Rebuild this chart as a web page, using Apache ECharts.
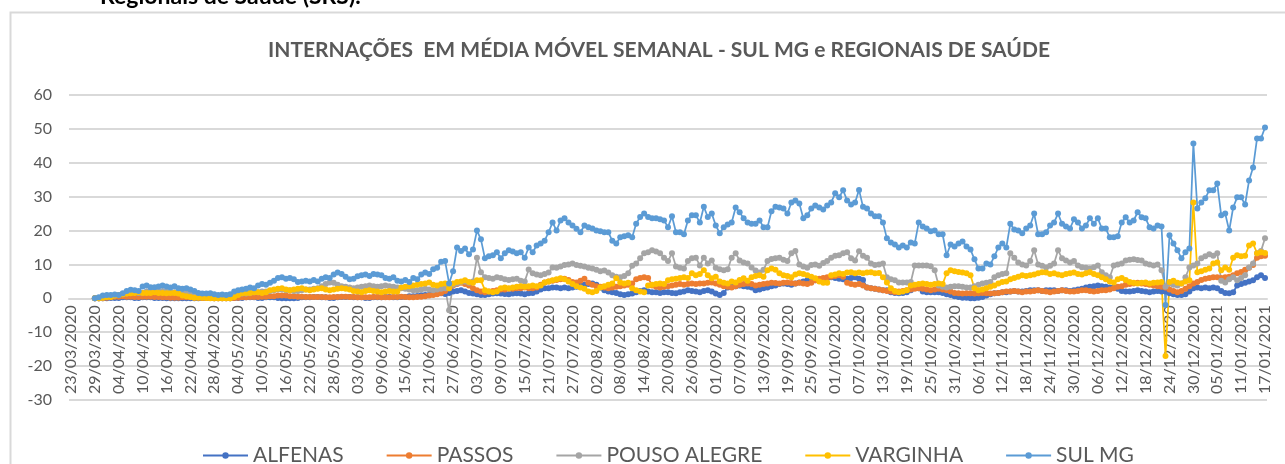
<!DOCTYPE html>
<html>
<head>
<meta charset="utf-8">
<script src="https://cdn.jsdelivr.net/npm/echarts@6/dist/echarts.min.js"></script>
<style>
html,body{margin:0;padding:0;background:#fff;}
#chart{width:1285px;height:464px;}
</style>
</head>
<body>
<div id="chart"></div>
<script>
// Categories: daily dates 23/03/2020 .. 17/01/2021
const startDate = [2020, 2, 23];
const dayCount = 301;
const categories = [];
for (let i = 0; i < dayCount; i++) {
  const d = new Date(Date.UTC(startDate[0], startDate[1], startDate[2] + i));
  const dd = String(d.getUTCDate()).padStart(2, '0');
  const mm = String(d.getUTCMonth() + 1).padStart(2, '0');
  categories.push(dd + '/' + mm + '/' + d.getUTCFullYear());
}

const seriesNames = ['ALFENAS', 'PASSOS', 'POUSO ALEGRE', 'VARGINHA', 'SUL MG'];
const yTicks = { min: -30, max: 60, step: 10 };

const alfenas = [
  null,null,null,null,null,null,0,0,0,0,
  0.1,0.1,0.1,0.3,0.3,0.3,0.1,0.1,0.3,0.3,
  0.3,0.1,0.1,0.1,0,0,0,0,0,0,
  0,0,0,0.1,0.1,0.1,0,0,0,0,
  0,0.1,0.1,0.1,0.3,0.3,0.3,0.1,0.1,0.3,
  0.3,0.3,0.1,0,0,0,0,0.1,0.3,0.3,
  0.3,0.4,0.4,0.3,0.3,0.1,0.1,0.3,0.4,0.4,
  0.4,0.3,0.3,0.3,0.1,0.1,0.3,0.3,0.3,0.4,
  0.4,0.3,0.3,0.4,0.4,0.6,0.6,0.7,0.9,1.0,
  1.0,1.2,1.4,1.5,1.3,1.6,2.0,2.2,2.4,2.0,
  1.6,1.4,1.2,1.0,1.0,1.2,1.4,1.5,1.4,1.3,
  1.2,1.4,1.5,1.4,1.2,1.5,1.6,2.0,2.6,3.0,
  3.0,3.2,3.2,3.0,3.2,3.0,3.2,3.4,3.8,4.0,
  4.2,4.4,4.0,3.2,2.4,2.0,1.8,1.6,1.2,1.0,
  1.2,1.4,1.8,2.2,2.4,2.0,1.8,1.8,1.6,1.8,
  1.8,1.6,1.5,1.8,2.0,2.4,2.2,2.0,1.8,2.2,
  2.4,2.0,1.4,1.0,1.6,3.2,3.4,3.6,3.8,3.6,
  3.4,3.2,2.4,2.6,3.0,3.2,3.6,3.8,4.2,4.4,
  4.2,4.0,4.4,4.7,5.0,5.3,5.0,5.3,5.6,5.8,
  6.0,6.2,6.0,5.8,5.6,5.8,6.0,6.2,5.8,5.4,
  3.2,3.0,2.8,2.6,2.4,2.4,1.8,1.6,1.5,1.6,
  1.8,2.4,3.5,3.0,2.0,1.8,1.8,1.8,1.8,1.6,
  1.2,1.0,0.6,0.4,0.2,0.2,0,0,0.2,0.4,
  0.8,1.2,1.5,1.6,1.8,1.8,2.0,2.2,2.0,2.0,
  2.2,2.4,2.4,2.4,2.2,2.4,2.4,2.4,2.2,2.4,
  2.4,2.2,2.4,2.6,2.8,3.2,3.4,3.6,3.8,3.6,
  3.4,3.2,3.2,2.8,2.2,2.0,2.0,2.2,2.4,2.2,
  2.0,1.8,2.0,2.2,2.0,2.0,1.5,1.2,1.0,1.0,
  1.2,2.0,3.0,3.2,3.0,3.2,3.0,3.2,3.0,2.2,
  1.6,1.5,1.8,3.8,4.2,4.6,5.0,5.3,6.2,6.8,
  6.0
];

const passos = [
  null,null,null,null,null,null,0,0,0,0.2,
  0.3,0.5,0.5,0.6,0.5,0.5,0.4,0.4,0.5,0.5,
  0.5,0.4,0.4,0.3,0.3,0.2,0.2,0.2,0.3,0.3,
  0.3,0.2,0.2,0.1,0.1,0.1,0,0,0,0,
  0,0.1,0.2,0.3,0.3,0.4,0.4,0.4,0.5,0.5,
  0.6,0.6,0.8,0.8,0.8,0.6,0.6,0.5,0.5,0.4,
  0.4,0.4,0.4,0.4,0.3,0.3,0.4,0.4,0.5,0.5,
  0.4,0.4,0.3,0.3,0.3,0.3,0.4,0.4,0.3,0.3,
  0.3,0.4,0.4,0.5,0.4,0.3,0.3,0.4,0.5,0.6,
  0.8,1.0,1.2,1.6,2.2,3.0,3.8,4.2,4.6,4.2,
  3.8,3.0,2.4,2.0,1.8,2.0,2.2,2.4,2.6,2.6,
  2.8,2.8,3.0,3.0,3.2,3.0,3.0,3.2,4.0,4.7,
  5.0,5.2,5.4,5.6,5.8,5.4,4.8,4.7,5.2,5.8,
  4.6,4.0,3.6,3.4,3.2,3.0,3.2,3.4,3.6,3.8,
  4.0,4.4,5.6,6.0,6.2,6.0,3.8,3.4,3.2,3.4,
  3.6,3.8,4.0,4.2,4.0,4.2,4.4,4.2,4.4,4.4,
  4.6,4.7,4.4,4.0,3.6,3.4,3.2,3.6,4.0,4.2,
  4.4,4.2,3.8,4.0,4.2,4.4,4.6,4.5,4.4,4.6,
  4.7,4.5,4.4,4.6,4.4,4.2,4.6,5.3,5.8,6.0,
  6.2,6.4,6.6,6.8,6.4,4.6,4.2,4.0,4.2,3.8,
  3.2,3.0,2.8,2.6,2.4,2.2,2.0,1.8,2.0,2.2,
  2.4,2.6,2.8,3.0,2.8,2.6,2.4,2.6,2.8,2.6,
  2.4,2.0,1.6,1.5,1.4,1.5,1.5,1.4,1.5,1.6,
  1.5,1.4,1.5,1.6,1.8,2.0,2.0,2.2,2.0,1.8,
  2.0,2.0,2.2,2.4,2.2,2.0,1.8,2.0,2.2,2.4,
  2.2,2.0,2.0,2.2,2.4,2.4,2.2,2.0,2.2,2.4,
  2.4,2.6,3.0,3.4,3.6,4.0,4.2,4.4,4.6,4.4,
  4.2,4.0,3.8,3.6,3.4,3.2,2.6,2.2,1.8,2.2,
  2.8,3.6,4.4,4.8,5.4,5.8,6.0,6.2,6.2,6.0,
  6.2,6.4,6.8,7.4,7.8,8.4,9.0,9.8,12.0,12.4,
  12.6
];

const pousoAlegre = [
  null,null,null,null,null,null,0,0,0.2,0.4,
  0.6,0.8,1.0,1.2,1.4,1.6,1.8,1.6,1.6,2.0,
  2.2,2.0,2.0,2.2,2.0,1.8,1.8,1.6,1.6,1.4,
  1.4,1.2,1.0,1.0,0.8,0.8,0.6,0.6,0.8,0.8,
  1.0,1.2,1.2,1.4,1.4,1.6,1.8,1.8,2.0,2.0,
  2.2,2.4,2.6,2.6,2.4,2.4,2.2,2.2,2.4,2.6,
  2.6,2.8,3.0,3.6,4.2,4.7,4.6,4.0,3.6,3.4,
  3.2,3.0,3.2,3.4,3.6,3.8,3.6,3.4,3.6,3.8,
  3.6,3.4,3.2,3.0,2.8,2.6,2.4,2.4,2.6,2.8,
  2.6,2.4,2.6,2.8,3.0,-3.5,4.0,4.4,4.8,5.0,
  4.6,5.0,12.0,7.7,6.2,6.0,5.8,6.2,6.0,5.6,
  5.4,5.6,5.8,5.2,5.0,8.5,7.4,7.0,6.8,7.2,
  7.6,9.1,9.0,9.4,9.8,10.0,10.3,9.8,9.6,9.4,
  9.0,8.8,8.4,8.0,8.2,7.6,6.8,6.4,6.2,6.6,
  7.4,9.6,10.3,11.8,13.3,13.6,14.2,13.8,13.3,12.0,
  11.0,13.3,9.4,9.0,8.8,11.0,11.8,12.0,9.7,12.0,
  10.3,11.2,9.0,8.6,8.3,8.6,12.0,13.3,11.2,10.6,
  10.3,9.1,8.2,7.6,8.4,11.0,11.6,11.8,12.0,11.4,
  11.0,13.3,14.0,10.0,9.4,9.0,9.8,10.0,9.6,10.4,
  11.0,12.0,12.6,12.7,13.3,13.6,11.8,11.2,13.9,12.6,
  12.0,10.3,9.8,10.0,10.3,6.2,5.6,5.3,4.7,4.7,
  4.7,4.8,9.7,9.7,9.7,9.7,9.5,8.3,3.8,3.4,
  3.2,3.4,3.6,3.6,3.4,3.2,3.2,3.6,4.0,4.4,
  4.6,4.8,6.2,6.8,7.2,7.4,13.3,12.0,10.6,10.0,
  9.7,11.0,14.2,10.0,9.6,9.1,9.6,10.3,14.2,11.8,
  11.2,10.6,11.0,9.7,9.2,9.0,8.8,9.2,9.7,7.7,
  6.8,6.2,9.7,10.0,10.3,11.2,11.4,11.5,11.3,11.2,
  10.3,10.0,9.7,10.0,8.3,3.4,4.4,4.0,3.8,4.4,
  6.2,9.1,9.7,10.3,11.8,12.4,13.0,12.6,13.3,5.2,
  4.7,5.6,6.2,5.3,6.0,6.8,9.1,10.3,13.3,14.0,
  17.7
];

const varginha = [
  null,null,null,null,null,null,0,0,0.2,0.4,
  0.4,0.8,1.0,1.2,1.4,1.5,1.6,1.8,1.6,1.6,
  1.6,1.8,1.6,1.6,1.5,1.6,1.6,1.4,0.8,0.6,
  0.4,0.2,0.2,0.2,0.1,0,0,0,0,0,
  0,0.4,1.0,1.5,1.6,1.6,1.8,1.8,1.6,1.8,
  2.4,2.6,2.8,3.0,2.6,2.4,2.6,2.8,3.0,2.6,
  2.4,2.6,2.8,3.0,2.6,2.4,2.6,2.8,3.0,2.8,
  2.6,2.2,2.0,1.8,2.2,2.4,2.2,2.0,1.8,2.0,
  2.2,2.0,2.0,3.2,3.4,3.6,3.8,4.0,4.2,4.4,
  4.7,4.0,3.8,4.2,4.4,3.0,4.4,4.8,5.0,5.3,
  4.8,4.6,5.3,5.3,2.4,2.0,1.8,2.0,3.0,3.2,
  3.0,3.2,3.4,3.6,3.4,3.6,3.8,3.6,3.8,4.7,
  5.0,5.3,5.6,5.9,5.6,5.0,4.2,3.6,3.2,2.8,
  2.0,1.8,2.2,3.2,3.6,4.0,4.4,5.9,4.7,4.4,
  4.6,3.0,2.4,2.0,1.8,3.8,4.0,4.2,4.4,4.2,
  5.3,5.6,5.8,6.0,6.2,6.0,7.4,6.8,7.2,8.3,
  6.8,5.9,6.4,5.0,4.6,4.4,5.0,4.7,5.4,5.9,
  5.2,6.2,6.6,6.8,6.4,8.3,8.8,8.4,7.4,6.8,
  6.6,6.2,7.0,7.4,7.2,6.8,6.4,5.9,5.0,4.6,
  4.6,6.8,7.0,7.4,7.2,7.6,7.7,7.4,7.6,7.4,
  7.6,7.7,7.4,7.5,6.2,4.7,3.0,2.2,1.8,2.0,
  2.4,3.8,4.0,4.2,4.4,4.2,4.0,4.2,4.4,4.2,
  7.4,8.3,8.0,7.8,7.6,7.4,6.8,3.0,2.4,2.6,
  3.0,3.4,3.8,4.4,4.8,5.0,5.6,6.0,6.4,6.8,
  6.6,6.8,7.0,7.4,7.7,7.6,7.2,7.4,7.0,6.8,
  7.2,7.4,7.6,7.2,7.0,7.4,7.7,7.2,6.8,6.2,
  5.6,5.0,4.7,5.6,6.0,5.4,4.8,4.6,4.4,4.6,
  4.7,4.4,4.6,4.7,4.8,-17.0,4.8,5.2,4.6,4.4,
  5.0,5.3,28.3,7.7,8.0,8.4,8.8,10.3,10.6,8.3,
  9.1,8.4,12.0,12.7,12.4,12.6,15.6,16.2,13.3,13.6,
  13.4
];

const sulMg = [
  null,null,null,null,null,null,0,0.3,0.8,1.0,
  1.0,1.1,1.0,1.5,2.2,2.5,2.4,2.2,3.5,3.8,
  3.3,3.3,3.5,3.8,3.5,3.2,3.6,3.0,2.8,3.0,
  2.6,2.2,1.6,1.4,1.4,1.5,1.2,1.0,1.1,1.0,
  1.2,2.0,2.4,2.6,2.8,3.2,3.0,3.8,4.2,4.0,
  4.6,5.2,6.0,6.2,5.8,6.0,5.6,4.8,5.0,5.2,
  5.0,5.4,5.0,5.8,6.2,6.0,7.0,7.6,7.2,6.4,
  5.6,5.8,6.5,6.8,7.0,6.6,7.2,7.0,6.8,6.0,
  5.8,6.2,5.2,5.0,5.4,4.8,6.0,5.6,7.0,7.6,
  7.2,8.6,9.0,10.8,11.0,4.4,8.0,15.0,14.0,14.7,
  13.0,14.4,20.0,17.4,11.8,12.4,12.7,13.6,11.8,13.3,
  14.2,13.8,13.3,13.6,12.0,15.0,13.6,15.6,16.2,17.0,
  19.5,22.4,20.0,23.0,23.6,22.4,21.5,20.5,19.5,21.5,
  21.0,20.6,20.0,19.8,19.5,19.5,17.0,16.2,18.0,18.3,
  18.6,18.0,22.0,24.0,25.0,24.0,23.6,23.6,23.3,23.0,
  21.0,24.2,19.5,19.5,18.9,23.0,24.5,24.5,22.4,27.0,
  24.0,25.0,21.5,19.2,21.0,21.8,22.4,26.8,25.4,23.6,
  22.4,22.0,22.0,23.0,21.0,21.0,25.7,27.0,26.8,26.5,
  25.0,28.3,28.9,28.0,23.6,24.5,26.5,27.4,26.8,26.2,
  27.4,28.3,31.0,29.8,31.9,28.9,27.7,28.3,32.0,27.0,
  26.5,25.0,24.2,24.2,22.4,17.7,16.5,15.9,15.0,15.6,
  15.0,16.5,16.2,22.4,21.2,20.6,19.8,20.0,18.9,18.9,
  12.7,15.9,15.3,16.2,16.8,15.3,14.4,11.5,8.8,8.8,
  10.3,10.0,12.4,15.0,16.2,15.0,22.0,20.3,20.0,19.2,
  20.6,21.5,25.0,18.9,18.9,19.5,21.5,22.4,25.0,22.0,
  21.2,20.6,23.3,22.4,20.6,21.5,23.6,22.0,23.6,20.6,
  20.6,18.0,18.0,18.3,22.4,23.9,22.4,23.0,25.4,23.9,
  23.6,21.0,20.6,21.5,21.2,-2.0,18.6,16.2,14.2,11.8,
  13.6,14.7,45.7,26.5,28.3,29.5,31.9,31.9,33.9,24.5,
  25.0,20.0,26.8,29.8,29.8,27.7,34.8,38.6,47.2,47.2,
  50.4
];

const seriesData = [alfenas, passos, pousoAlegre, varginha, sulMg];
const seriesColors = ['#4472C4', '#ED7D31', '#A5A5A5', '#FFC000', '#5B9BD5'];

const FONT = 'Lato, "Liberation Sans", sans-serif';
const GRID = { left: 69, right: 18, top: 95, bottom: 64 };
const CH = 464;
const gridH = CH - GRID.top - GRID.bottom;
// move the category axis (line + labels) up to the zero level, like the original
const zeroOffset = -gridH * (0 - yTicks.min) / (yTicks.max - yTicks.min);

const chart = echarts.init(document.getElementById('chart'), null, { renderer: 'canvas' });

chart.setOption({
  animation: false,
  backgroundColor: '#ffffff',
  textStyle: { fontFamily: FONT },
  graphic: [
    { type: 'rect', silent: true, z: -10,
      shape: { x: 10.5, y: 12.5, width: 1400, height: 600 },
      style: { fill: '#ffffff', stroke: '#d9d9d9', lineWidth: 2 } },
    { type: 'text', left: 100, top: -15, silent: true,
      style: { text: 'Regionais de Saúde (SRS).', fill: '#000000',
        font: 'bold 23px ' + FONT } }
  ],
  title: {
    text: 'INTERNAÇÕES  EM MÉDIA MÓVEL SEMANAL - SUL MG e REGIONAIS DE SAÚDE',
    left: 654, top: 35, textAlign: 'center',
    textStyle: { color: '#595959', fontSize: 21, fontWeight: 'bold', fontFamily: FONT }
  },
  legend: {
    left: 197, top: 440,
    itemWidth: 45, itemHeight: 8, itemGap: 42,
    textStyle: { color: '#595959', fontSize: 21, fontFamily: FONT },
    data: seriesNames
  },
  grid: { left: GRID.left, right: GRID.right, top: GRID.top, bottom: GRID.bottom,
          containLabel: false, outerBoundsMode: 'none' },
  xAxis: {
    type: 'category',
    data: categories,
    boundaryGap: true,
    position: 'bottom',
    offset: zeroOffset,
    axisLine: { show: true, onZero: false, lineStyle: { color: '#d9d9d9', width: 2 } },
    axisTick: { show: false },
    axisLabel: { interval: 5, rotate: 90, margin: 7, color: '#595959', fontSize: 16, fontFamily: FONT },
    splitLine: { show: false }
  },
  yAxis: {
    type: 'value',
    min: yTicks.min, max: yTicks.max, interval: yTicks.step,
    axisLine: { show: false },
    axisTick: { show: false },
    axisLabel: { color: '#595959', fontSize: 16, margin: 17, fontFamily: FONT },
    splitLine: { lineStyle: { color: '#d9d9d9', width: 2 } }
  },
  series: seriesNames.map((name, k) => ({
    name: name,
    type: 'line',
    data: seriesData[k],
    color: seriesColors[k],
    symbol: 'circle',
    symbolSize: 6,
    showSymbol: true,
    showAllSymbol: true,
    lineStyle: { width: 1.75, color: seriesColors[k] },
    itemStyle: { color: seriesColors[k] },
    connectNulls: false
  }))
});
</script>
</body>
</html>
